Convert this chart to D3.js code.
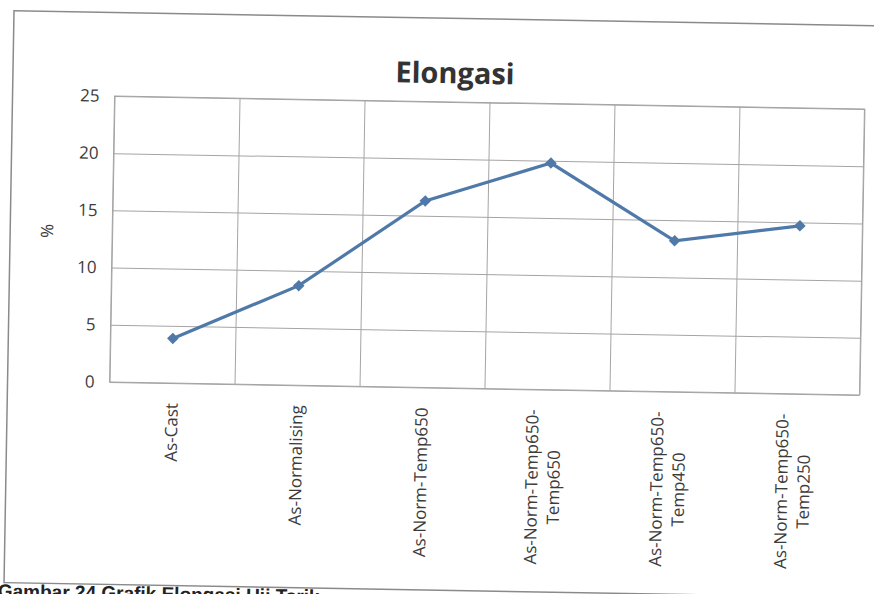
<!DOCTYPE html>
<html>
<head>
<meta charset="utf-8">
<script src="https://cdn.jsdelivr.net/npm/d3@7"></script>
<style>
  body { margin: 0; background: #fff; }
  text { font-family: "Open Sans", sans-serif; fill: #3c3c3c; }
</style>
</head>
<body>
<script>
// data
var categories = ["As-Cast", "As-Normalising", "As-Norm-Temp650", "As-Norm-Temp650-Temp650", "As-Norm-Temp650-Temp450", "As-Norm-Temp650-Temp250"];
var elongasi = [3.9, 8.7, 16.3, 19.8, 13.2, 14.7];
var yTicks = [0, 5, 10, 15, 20, 25];
var title = "Elongasi";
var yLabel = "%";
var caption = "Gambar 24 Grafik Elongasi Uji Tarik";

var width = 874;
var height = 594;
var margin = { top: 102.5, bottom: 205.5, left: 112, right: 12 };
var w = width - margin.left - margin.right;
var h = height - margin.top - margin.bottom;

var svg = d3.select("body")
    .append("svg")
    .attr("width", width)
    .attr("height", height);

// the scan is tilted by about one degree
var page = svg.append("g")
    .attr("transform", "rotate(1, 487, 245)");

page.append("rect")
    .attr("x", 10)
    .attr("y", 19)
    .attr("width", 900)
    .attr("height", 572)
    .attr("fill", "none")
    .attr("stroke", "#8a8a8a")
    .attr("stroke-width", 1.5);

page.append("text")
    .attr("x", 4)
    .attr("y", 606)
    .style("font-family", "'Liberation Sans', Arial, sans-serif")
    .style("font-weight", "bold")
    .style("font-size", "19px")
    .style("fill", "#222")
    .text(caption);

page.append("text")
    .attr("x", 452)
    .attr("y", 84)
    .attr("text-anchor", "middle")
    .style("font-weight", "bold")
    .style("font-size", "29px")
    .style("fill", "#333")
    .text(title);

var chart = page.append("g")
    .attr("transform", "translate(" + margin.left + "," + margin.top + ")");

var x = d3.scaleBand()
    .domain(categories)
    .range([0, w]);

var xEdges = d3.scaleLinear()
    .domain([0, categories.length])
    .range([0, w]);

var y = d3.scaleLinear()
    .domain([0, 25])
    .range([h, 0]);

// horizontal gridlines + tick labels
var yAxis = chart.append("g")
    .call(d3.axisLeft(y)
        .tickValues(yTicks)
        .tickSize(-w)
        .tickPadding(15));
yAxis.select(".domain").remove();
yAxis.selectAll("line").attr("stroke", "#a4a4a4");
yAxis.selectAll("text")
    .style("font-size", "17px")
    .style("font-family", "'Open Sans', sans-serif")
    .attr("fill", "#3c3c3c");

// vertical gridlines at category edges
var xGrid = chart.append("g")
    .attr("transform", "translate(0," + h + ")")
    .call(d3.axisBottom(xEdges)
        .ticks(categories.length)
        .tickSize(-h)
        .tickFormat(""));
xGrid.select(".domain").remove();
xGrid.selectAll("line").attr("stroke", "#a4a4a4");

chart.append("rect")
    .attr("width", w)
    .attr("height", h)
    .attr("fill", "none")
    .attr("stroke", "#a4a4a4");

// category labels, rotated, long ones on two lines
var labels = chart.selectAll(".xlab")
    .data(categories)
    .enter()
    .append("text")
    .attr("class", "xlab")
    .style("font-size", "17px");

labels.each(function (d) {
    var lines = d.length > 16 ? [d.slice(0, 16), d.slice(16)] : [d];
    var t = d3.select(this);
    lines.forEach(function (l, i) {
        t.append("tspan").text(l);
    });
    var maxLen = 0;
    t.selectAll("tspan").each(function () {
        maxLen = Math.max(maxLen, this.getComputedTextLength());
    });
    var cx = x(d) + x.bandwidth() / 2;
    var cy = h + 20 + maxLen / 2;
    t.attr("transform", "translate(" + cx + "," + cy + ") rotate(-90)")
        .attr("text-anchor", "middle");
    var offs = lines.length == 1 ? [6] : [-8, 14];
    t.selectAll("tspan")
        .attr("x", 0)
        .attr("y", function (l, i) { return offs[i]; });
});

chart.append("text")
    .attr("transform", "translate(-59," + (h / 2 - 7) + ") rotate(-90)")
    .attr("text-anchor", "middle")
    .style("font-size", "17px")
    .text(yLabel);

var line = d3.line()
    .x(function (d, i) { return x(categories[i]) + x.bandwidth() / 2; })
    .y(function (d) { return y(d); });

chart.append("path")
    .datum(elongasi)
    .attr("d", line)
    .attr("fill", "none")
    .attr("stroke", "#4f79a8")
    .attr("stroke-width", 3.2);

chart.selectAll(".pt")
    .data(elongasi)
    .enter()
    .append("path")
    .attr("class", "pt")
    .attr("d", d3.symbol().type(d3.symbolDiamond2).size(85))
    .attr("transform", function (d, i) {
        return "translate(" + (x(categories[i]) + x.bandwidth() / 2) + "," + y(d) + ")";
    })
    .attr("fill", "#4f79a8");
</script>
</body>
</html>
